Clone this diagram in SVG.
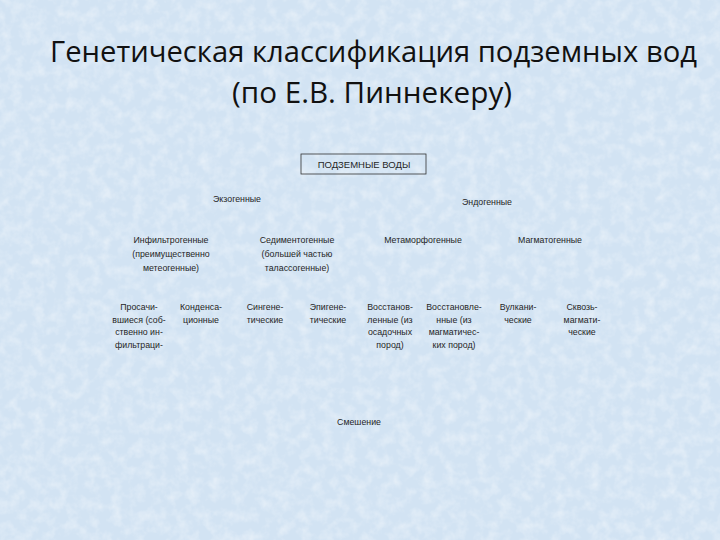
<svg xmlns="http://www.w3.org/2000/svg" width="720" height="540" viewBox="0 0 720 540">
  <defs>
    <filter id="tex" x="0" y="0" width="100%" height="100%">
      <feTurbulence type="fractalNoise" baseFrequency="0.09" numOctaves="3" seed="7" result="n"/>
      <feColorMatrix in="n" type="matrix" values="0 0 0 0 1  0 0 0 0 1  0 0 0 0 1  0 0 0 1.4 -0.55" result="w"/>
      <feComposite in="w" in2="SourceGraphic" operator="in"/>
    </filter>
    <style>
      .title { font-family: "Open Sans", "Noto Sans", "DejaVu Sans", sans-serif; font-size: 30px; fill: #111; }
      .lbl { font-family: "Liberation Sans", "DejaVu Sans", sans-serif; font-size: 8.8px; fill: #262626; text-anchor: middle; }
      .box { fill: none; stroke: #333; stroke-width: 0.8; }
    </style>
  </defs>
  <rect x="0" y="0" width="720" height="540" fill="#d2e3f3"/>
  <rect x="0" y="0" width="720" height="540" fill="#ffffff" filter="url(#tex)" opacity="0.55"/>

  <g id="title">
    <text class="title" x="50" y="62" textLength="647" lengthAdjust="spacingAndGlyphs">Генетическая классификация подземных вод</text>
    <text class="title" x="232" y="103" textLength="280" lengthAdjust="spacingAndGlyphs">(по Е.В. Пиннекеру)</text>
  </g>

  <g id="connectors"></g>

  <g id="root">
    <rect class="box" x="301" y="154" width="125" height="20"/>
    <text class="lbl" x="364" y="168" style="font-size:9.5px">ПОДЗЕМНЫЕ ВОДЫ</text>
  </g>

  <g id="exo"><text class="lbl" x="237" y="202">Экзогенные</text></g>
  <g id="endo"><text class="lbl" x="487" y="205">Эндогенные</text></g>

  <g id="infiltro">
    <text class="lbl" x="171" y="243">Инфильтрогенные</text>
    <text class="lbl" x="171" y="257">(преимущественно</text>
    <text class="lbl" x="171" y="271">метеогенные)</text>
  </g>
  <g id="sedimento">
    <text class="lbl" x="297" y="243">Седиментогенные</text>
    <text class="lbl" x="297" y="257">(большей частью</text>
    <text class="lbl" x="297" y="271">талассогенные)</text>
  </g>
  <g id="metamorpho"><text class="lbl" x="423" y="243">Метаморфогенные</text></g>
  <g id="magmato"><text class="lbl" x="550" y="243">Магматогенные</text></g>

  <g id="prosach">
    <text class="lbl" x="139" y="310">Просачи-</text>
    <text class="lbl" x="139" y="322.5">вшиеся (соб-</text>
    <text class="lbl" x="139" y="335">ственно ин-</text>
    <text class="lbl" x="139" y="347.5">фильтраци-</text>
  </g>
  <g id="konden">
    <text class="lbl" x="201" y="310">Конденса-</text>
    <text class="lbl" x="201" y="322.5">ционные</text>
  </g>
  <g id="singen">
    <text class="lbl" x="265" y="310">Сингене-</text>
    <text class="lbl" x="265" y="322.5">тические</text>
  </g>
  <g id="epigen">
    <text class="lbl" x="328" y="310">Эпигене-</text>
    <text class="lbl" x="328" y="322.5">тические</text>
  </g>
  <g id="vosst1">
    <text class="lbl" x="390" y="310">Восстанов-</text>
    <text class="lbl" x="390" y="322.5">ленные (из</text>
    <text class="lbl" x="390" y="335">осадочных</text>
    <text class="lbl" x="390" y="347.5">пород)</text>
  </g>
  <g id="vosst2">
    <text class="lbl" x="454" y="310">Восстановле-</text>
    <text class="lbl" x="454" y="322.5">нные (из</text>
    <text class="lbl" x="454" y="335">магматичес-</text>
    <text class="lbl" x="454" y="347.5">ких пород)</text>
  </g>
  <g id="vulkan">
    <text class="lbl" x="518" y="310">Вулкани-</text>
    <text class="lbl" x="518" y="322.5">ческие</text>
  </g>
  <g id="skvoz">
    <text class="lbl" x="582" y="310">Сквозь-</text>
    <text class="lbl" x="582" y="322.5">магмати-</text>
    <text class="lbl" x="582" y="335">ческие</text>
  </g>

  <g id="mix"><text class="lbl" x="359" y="425">Смешение</text></g>
</svg>
